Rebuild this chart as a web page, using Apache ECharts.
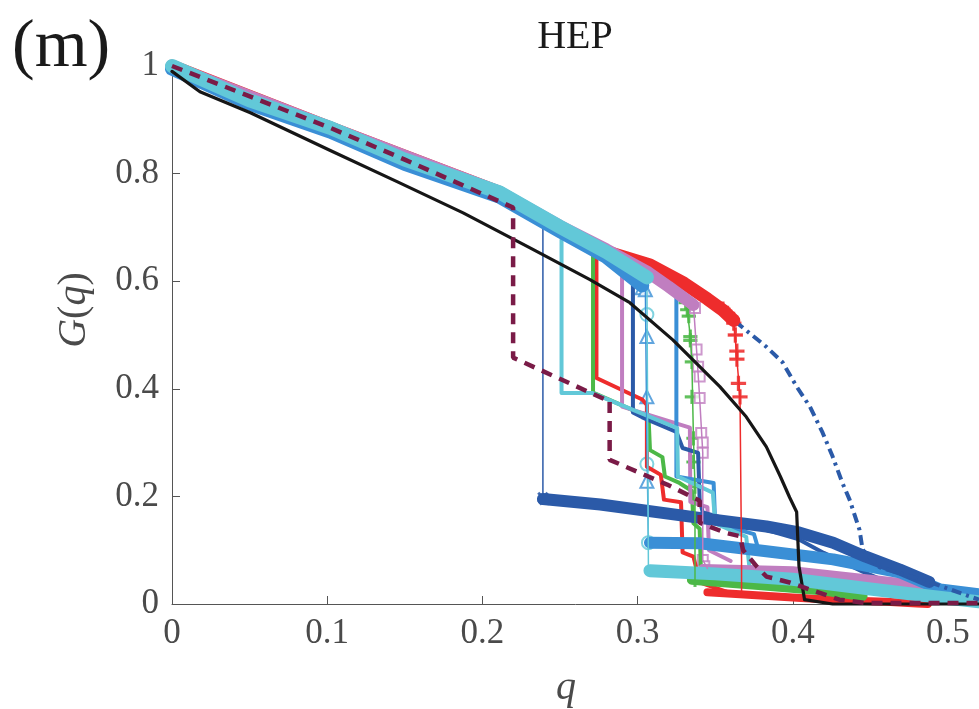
<!DOCTYPE html>
<html>
<head>
<meta charset="utf-8">
<script src="https://cdn.jsdelivr.net/npm/echarts@6/dist/echarts.min.js"></script>
<style>
  html, body { margin: 0; padding: 0; background: #fff; }
  #chart { width: 979px; height: 709px; }
</style>
</head>
<body>
<div id="chart"></div>
<script>
// ---- axis ticks ----
const xTicks = [0, 0.1, 0.2, 0.3, 0.4, 0.5];
const yTicks = [0, 0.2, 0.4, 0.6, 0.8, 1];

// ---- shared upper branch (before the collapse) ----
const bundleQ = [0, 0.05, 0.102, 0.15, 0.211, 0.25, 0.28, 0.306];
const bundleG = [1.0, 0.936, 0.885, 0.826, 0.765, 0.701, 0.654, 0.607];

// ---- black solid curve ----
const blackQ = [0, 0.018, 0.0505, 0.102, 0.145, 0.1876, 0.2307, 0.2693, 0.295, 0.3227, 0.353, 0.370, 0.383, 0.392, 0.398, 0.4025, 0.404, 0.4076, 0.4257, 0.52];
const blackG = [0.99, 0.952, 0.913, 0.843, 0.785, 0.727, 0.662, 0.603, 0.560, 0.491, 0.404, 0.348, 0.292, 0.237, 0.198, 0.171, 0.070, 0.008, 0.0, 0.0];

// ---- maroon dashed curve ----
const dashQ = [0, 0.102, 0.15, 0.2198, 0.2198, 0.280, 0.282, 0.282, 0.319, 0.340, 0.340, 0.357, 0.366, 0.368, 0.377, 0.383, 0.398, 0.430, 0.447, 0.52];
const dashG = [1.0, 0.885, 0.826, 0.737, 0.458, 0.379, 0.379, 0.268, 0.222, 0.192, 0.151, 0.132, 0.126, 0.100, 0.069, 0.051, 0.040, 0.008, 0.002, 0.002];

// ---- navy dash-dot curve ----
const ddQ = [0, 0.102, 0.211, 0.25, 0.28, 0.308, 0.33, 0.345, 0.3613, 0.383, 0.3935, 0.4025, 0.411, 0.4193, 0.4257, 0.432, 0.4366, 0.443, 0.445, 0.456, 0.488, 0.52];
const ddG = [1.0, 0.885, 0.765, 0.700, 0.655, 0.626, 0.594, 0.566, 0.529, 0.478, 0.449, 0.404, 0.367, 0.318, 0.274, 0.225, 0.194, 0.138, 0.101, 0.068, 0.041, 0.008];

// ---- red (+) ----
const redTopQ = [0, 0.102, 0.211, 0.25, 0.28, 0.308, 0.33, 0.345, 0.355, 0.362];
const redTopG = [1.0, 0.885, 0.765, 0.700, 0.655, 0.630, 0.596, 0.567, 0.546, 0.527];
const redThinQ = [0.362, 0.364, 0.366, 0.367, 0.367];
const redThinG = [0.527, 0.455, 0.385, 0.080, 0.020];
const redPlusQ = [0.355, 0.358, 0.360, 0.362, 0.363, 0.364, 0.364, 0.365, 0.366];
const redPlusG = [0.548, 0.540, 0.533, 0.522, 0.500, 0.470, 0.455, 0.410, 0.385];
const redLowQ = [0.345, 0.366, 0.40, 0.43, 0.46, 0.48, 0.487];
const redLowG = [0.022, 0.018, 0.012, 0.007, 0.004, 0.001, 0.0];
const redStepQ = [0.2735, 0.2735, 0.303, 0.306, 0.306, 0.315, 0.317, 0.328, 0.329, 0.336, 0.34, 0.36, 0.40, 0.45, 0.48];
const redStepG = [0.646, 0.420, 0.380, 0.370, 0.255, 0.240, 0.194, 0.189, 0.096, 0.088, 0.040, 0.020, 0.010, 0.004, 0.0];

// ---- green (+) ----
const greenThinQ = [0.32, 0.33, 0.332, 0.334, 0.335, 0.336, 0.337, 0.337];
const greenThinG = [0.590, 0.575, 0.547, 0.497, 0.450, 0.308, 0.218, 0.045];
const greenPlusQ = [0.331, 0.332, 0.333, 0.334, 0.334, 0.335, 0.335, 0.336, 0.336, 0.337, 0.337];
const greenPlusG = [0.560, 0.547, 0.535, 0.497, 0.490, 0.450, 0.385, 0.308, 0.264, 0.218, 0.045];
const greenLowQ = [0.335, 0.38, 0.42, 0.445];
const greenLowG = [0.045, 0.035, 0.025, 0.015];
const greenStepQ = [0.2713, 0.2713, 0.2995, 0.307, 0.308, 0.316, 0.3176, 0.327, 0.335, 0.336, 0.34, 0.341];
const greenStepG = [0.649, 0.393, 0.357, 0.352, 0.286, 0.273, 0.237, 0.225, 0.210, 0.150, 0.140, 0.045];

// ---- magenta (squares) ----
const magTopQ = [0, 0.102, 0.211, 0.25, 0.28, 0.306, 0.32, 0.336];
const magTopG = [1.0, 0.886, 0.766, 0.703, 0.659, 0.618, 0.590, 0.556];
const magThinQ = [0.336, 0.338, 0.34, 0.342, 0.342, 0.345];
const magThinG = [0.556, 0.473, 0.383, 0.281, 0.082, 0.066];
const magSqQ = [0.337, 0.338, 0.339, 0.34, 0.34, 0.341, 0.342, 0.342, 0.342, 0.343];
const magSqG = [0.550, 0.473, 0.441, 0.423, 0.383, 0.318, 0.300, 0.281, 0.082, 0.070];
const magLowQ = [0.342, 0.40, 0.469, 0.49, 0.52];
const magLowG = [0.066, 0.062, 0.040, 0.027, 0.018];
const magStepQ = [0.290, 0.290, 0.3337, 0.334, 0.345, 0.346, 0.36];
const magStepG = [0.607, 0.367, 0.328, 0.190, 0.180, 0.100, 0.080];

// ---- navy (x) ----
const navyTopQ = [0, 0.102, 0.15, 0.211, 0.239];
const navyTopG = [1.0, 0.885, 0.826, 0.765, 0.705];
const navyThinQ = [0.239, 0.239];
const navyThinG = [0.705, 0.198];
const navyLowQ = [0.239, 0.276, 0.34, 0.383, 0.404, 0.426, 0.447, 0.469, 0.488];
const navyLowG = [0.195, 0.185, 0.160, 0.144, 0.133, 0.114, 0.088, 0.064, 0.041];
const navyStepQ = [0.297, 0.297, 0.303, 0.325, 0.329, 0.339, 0.340, 0.342, 0.38, 0.404, 0.42, 0.445, 0.47, 0.49];
const navyStepG = [0.597, 0.356, 0.347, 0.320, 0.290, 0.281, 0.194, 0.170, 0.140, 0.120, 0.095, 0.060, 0.030, 0.010];

// ---- light blue (triangles) ----
const blueTopQ = [0, 0.05, 0.102, 0.15, 0.211, 0.25, 0.28, 0.303];
const blueTopG = [0.995, 0.930, 0.878, 0.818, 0.757, 0.693, 0.645, 0.592];
const blueThinQ = [0.305, 0.306, 0.307];
const blueThinG = [0.590, 0.300, 0.114];
const blueTriQ = [0.303, 0.305, 0.306, 0.306, 0.306];
const blueTriG = [0.588, 0.584, 0.497, 0.385, 0.228];
const blueLowQ = [0.308, 0.34, 0.383, 0.426, 0.469, 0.495, 0.52];
const blueLowG = [0.114, 0.113, 0.098, 0.083, 0.059, 0.027, 0.018];
const blueStepQ = [0.325, 0.325, 0.349, 0.350, 0.375, 0.378, 0.40];
const blueStepG = [0.575, 0.237, 0.225, 0.150, 0.130, 0.100, 0.096];

// ---- cyan (circles) ----
const cyanThinQ = [0.306, 0.307];
const cyanThinG = [0.607, 0.060];
const cyanCircQ = [0.306, 0.306, 0.307];
const cyanCircG = [0.538, 0.260, 0.114];
const cyanLowQ = [0.308, 0.35, 0.40, 0.45, 0.49, 0.52];
const cyanLowG = [0.062, 0.056, 0.046, 0.028, 0.014, 0.004];
const cyanStepQ = [0.251, 0.251, 0.271, 0.3255, 0.326, 0.3485, 0.350, 0.370, 0.372, 0.39];
const cyanStepG = [0.677, 0.392, 0.392, 0.327, 0.237, 0.207, 0.150, 0.125, 0.070, 0.055];

const COL = {
  red: '#ee2c2c', green: '#4cb847', magenta: '#c07ec0', navy: '#2b5aa8',
  blue: '#3a8fd6', cyan: '#62c8d8', maroon: '#7a1b47', black: '#161616'
};
const SERIF = '"Liberation Serif", "DejaVu Serif", serif';
const PLUS = 'path://M0,4.3H10V5.7H0Z M4.3,0H5.7V10H4.3Z';

function zip(q, g) { return q.map((v, i) => [v, g[i]]); }

function line(name, q, g, color, width, extra) {
  return Object.assign({
    type: 'line', name: name, data: zip(q, g),
    symbol: 'none', showSymbol: false, silent: true, clip: false,
    animation: false,
    lineStyle: { color: color, width: width, cap: 'round', join: 'round' }
  }, extra || {});
}
function marks(name, q, g, color, symbol, size, extra) {
  return Object.assign({
    type: 'scatter', name: name, data: zip(q, g), silent: true, clip: false,
    animation: false, symbol: symbol, symbolSize: size,
    itemStyle: { color: color, borderColor: color, borderWidth: 1.3 }
  }, extra || {});
}

const series = [
  // staircase curves
  line('red step', redStepQ, redStepG, COL.red, 4),
  line('green step', greenStepQ, greenStepG, COL.green, 4),
  line('magenta step', magStepQ, magStepG, COL.magenta, 4),
  line('navy step', navyStepQ, navyStepG, COL.navy, 4),
  line('blue step', blueStepQ, blueStepG, COL.blue, 4),
  line('cyan step', cyanStepQ, cyanStepG, COL.cyan, 4),
  // dense lower branches
  line('red low', redLowQ, redLowG, COL.red, 8),
  line('green low', greenLowQ, greenLowG, COL.green, 10),
  line('magenta low', magLowQ, magLowG, COL.magenta, 9),
  line('blue low', blueLowQ, blueLowG, COL.blue, 12),
  line('cyan low', cyanLowQ, cyanLowG, COL.cyan, 13),
  line('navy low', navyLowQ, navyLowG, COL.navy, 12),
  // thin connectors of the marker curves
  line('red thin', redThinQ, redThinG, COL.red, 1.5),
  line('green thin', greenThinQ, greenThinG, COL.green, 1.5),
  line('magenta thin', magThinQ, magThinG, COL.magenta, 1.5),
  line('navy thin', navyThinQ, navyThinG, COL.navy, 1.5),
  line('blue thin', blueThinQ, blueThinG, COL.blue, 1.5),
  line('cyan thin', cyanThinQ, cyanThinG, COL.cyan, 1.5),
  // markers
  marks('red plus', redPlusQ, redPlusG, COL.red, PLUS, 14),
  marks('green plus', greenPlusQ, greenPlusG, COL.green, PLUS, 13),
  marks('magenta square', magSqQ, magSqG, COL.magenta, 'emptyRect', 10),
  marks('blue triangle', blueTriQ, blueTriG, COL.blue, 'emptyTriangle', 13),
  marks('cyan circle', cyanCircQ, cyanCircG, COL.cyan, 'emptyCircle', 13),
  marks('navy cross', [0.239, 0.240], [0.198, 0.194], COL.navy, PLUS, 12, { symbolRotate: 45 }),
  // dash-dot curve, hidden under the upper branch until it separates
  line('dash-dot', ddQ, ddG, COL.navy, 4, { lineStyle: { color: COL.navy, width: 4, type: [10, 5, 3, 5], cap: 'butt' } }),
  // upper branch
  line('navy top', navyTopQ, navyTopG, COL.navy, 3),
  line('red top', redTopQ, redTopG, COL.red, 13),
  line('magenta top', magTopQ, magTopG, COL.magenta, 12),
  line('blue top', blueTopQ, blueTopG, COL.blue, 14),
  line('cyan top', bundleQ, bundleG, COL.cyan, 14),
  // single curves
  line('black', blackQ, blackG, COL.black, 3.2),
  line('dashed', dashQ, dashG, COL.maroon, 4.5, { lineStyle: { color: COL.maroon, width: 4.5, type: [11, 8], cap: 'butt' } })
];

const axisGray = '#555555';
const chart = echarts.init(document.getElementById('chart'), null, { renderer: 'canvas' });
chart.setOption({
  backgroundColor: '#ffffff',
  animation: false,
  grid: { left: 172, top: 66, right: 0, bottom: 105, containLabel: false },
  xAxis: {
    type: 'value', min: 0, max: 0.52,
    axisLine: { show: true, lineStyle: { color: axisGray, width: 1 } },
    axisTick: { show: true, inside: true, length: 8, lineStyle: { color: axisGray }, customValues: xTicks },
    axisLabel: { customValues: xTicks, fontFamily: SERIF, fontSize: 35, color: '#4a4a4a', margin: 12 },
    splitLine: { show: false }
  },
  yAxis: {
    type: 'value', min: 0, max: 1,
    axisLine: { show: true, lineStyle: { color: axisGray, width: 1 } },
    axisTick: { show: true, inside: true, length: 8, lineStyle: { color: axisGray }, customValues: yTicks },
    axisLabel: { customValues: yTicks, fontFamily: SERIF, fontSize: 35, color: '#4a4a4a', margin: 13 },
    splitLine: { show: false }
  },
  graphic: [
    { type: 'text', left: 12, top: 14, style: { text: '(m)', font: '68px ' + SERIF, fill: '#1a1a1a' } },
    { type: 'text', x: 575, y: 37, style: { text: 'HEP', font: '40px ' + SERIF, fill: '#1a1a1a', align: 'center', verticalAlign: 'middle' } },
    { type: 'text', x: 566, y: 688, style: { text: 'q', font: 'italic 40px ' + SERIF, fill: '#4a4a4a', align: 'center', verticalAlign: 'middle' } },
    { type: 'text', x: 74, y: 310, rotation: Math.PI / 2,
      style: {
        text: '{i|G}{r|(}{i|q}{r|)}', align: 'center', verticalAlign: 'middle',
        rich: {
          i: { font: 'italic 40px ' + SERIF, fill: '#4a4a4a' },
          r: { font: '40px ' + SERIF, fill: '#4a4a4a' }
        }
      }
    }
  ],
  series: series
});
</script>
</body>
</html>
